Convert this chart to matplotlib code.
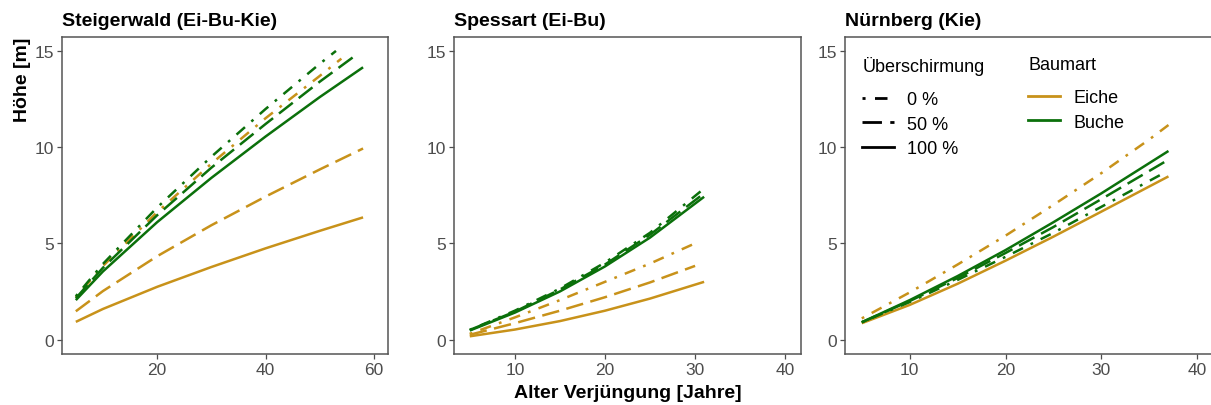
import matplotlib
matplotlib.use("Agg")
import matplotlib.pyplot as plt
from matplotlib.lines import Line2D

# Steigerwald (Ei-Bu-Kie)
stw_ei100_x = [5, 10, 20, 30, 40, 50, 58]
stw_ei100_y = [0.92, 1.59, 2.74, 3.77, 4.74, 5.65, 6.35]
stw_ei50_x = [5, 10, 20, 30, 40, 50, 58]
stw_ei50_y = [1.47, 2.52, 4.33, 5.94, 7.43, 8.84, 9.93]
stw_ei0_x = [5, 10, 20, 30, 40, 50, 54]
stw_ei0_y = [2.2, 3.82, 6.62, 9.14, 11.5, 13.7, 14.6]
stw_bu100_x = [5, 10, 20, 30, 40, 50, 58]
stw_bu100_y = [2.05, 3.54, 6.1, 8.4, 10.55, 12.6, 14.15]
stw_bu50_x = [5, 10, 20, 30, 40, 50, 57]
stw_bu50_y = [2.15, 3.73, 6.46, 8.93, 11.2, 13.4, 14.85]
stw_bu0_x = [5, 10, 20, 30, 40, 50, 53]
stw_bu0_y = [2.25, 3.93, 6.86, 9.5, 11.98, 14.33, 15.0]

# Spessart (Ei-Bu)
spe_ei100_x = [5, 10, 15, 20, 25, 31]
spe_ei100_y = [0.17, 0.52, 0.96, 1.5, 2.13, 3.0]
spe_ei50_x = [5, 10, 15, 20, 25, 30]
spe_ei50_y = [0.25, 0.85, 1.5, 2.2, 2.97, 3.83]
spe_ei0_x = [5, 10, 15, 20, 25, 30]
spe_ei0_y = [0.3, 1.15, 2.05, 3.0, 3.95, 5.0]
spe_bu100_x = [5, 10, 15, 20, 25, 31]
spe_bu100_y = [0.47, 1.4, 2.5, 3.8, 5.3, 7.42]
spe_bu50_x = [5, 10, 15, 20, 25, 31]
spe_bu50_y = [0.5, 1.45, 2.6, 3.9, 5.45, 7.6]
spe_bu0_x = [5, 10, 15, 20, 25, 31]
spe_bu0_y = [0.5, 1.5, 2.65, 4.0, 5.55, 7.85]

# Nürnberg (Kie)
nbg_ei100_x = [5, 10, 15, 20, 25, 30, 37]
nbg_ei100_y = [0.85, 1.8, 2.9, 4.1, 5.35, 6.65, 8.48]
nbg_ei0_x = [5, 10, 15, 20, 25, 30, 35, 37]
nbg_ei0_y = [1.1, 2.45, 3.9, 5.4, 7.0, 8.65, 10.4, 11.15]
nbg_bu100_x = [5, 10, 15, 20, 25, 30, 37]
nbg_bu100_y = [0.9, 2.05, 3.3, 4.65, 6.1, 7.6, 9.8]
nbg_bu50_x = [5, 10, 15, 20, 25, 30, 37]
nbg_bu50_y = [0.9, 2.0, 3.2, 4.5, 5.85, 7.3, 9.35]
nbg_bu0_x = [5, 10, 15, 20, 25, 30, 36.5]
nbg_bu0_y = [0.9, 1.95, 3.1, 4.3, 5.55, 6.9, 8.65]

titles = ["Steigerwald (Ei-Bu-Kie)", "Spessart (Ei-Bu)", "Nürnberg (Kie)"]
shade_labels = ["0 %", "50 %", "100 %"]
species_labels = ["Eiche", "Buche"]

COLORS = {"Eiche": "#C8921A", "Buche": "#0B700B"}
STYLES = {"0 %": (0, (1.1, 3.4, 4.5, 3.4)), "50 %": (0, (7, 3)), "100 %": "solid"}
LW = 1.8
GREY = "#4D4D4D"

plt.rcParams["font.family"] = ["Liberation Sans", "DejaVu Sans"]

fig = plt.figure(figsize=(12.11, 4.06), dpi=100)
W, H = 1211.0, 406.0
top, bottom = 37.5, 355.0
ax1 = fig.add_axes([62 / W, 1 - bottom / H, 326 / W, (bottom - top) / H])
ax2 = fig.add_axes([454 / W, 1 - bottom / H, 347 / W, (bottom - top) / H])
ax3 = fig.add_axes([845 / W, 1 - bottom / H, 369 / W, (bottom - top) / H])
axes = [ax1, ax2, ax3]

lines = [
    (ax1, stw_ei100_x, stw_ei100_y, "Eiche", "100 %"),
    (ax1, stw_ei50_x, stw_ei50_y, "Eiche", "50 %"),
    (ax1, stw_ei0_x, stw_ei0_y, "Eiche", "0 %"),
    (ax1, stw_bu100_x, stw_bu100_y, "Buche", "100 %"),
    (ax1, stw_bu50_x, stw_bu50_y, "Buche", "50 %"),
    (ax1, stw_bu0_x, stw_bu0_y, "Buche", "0 %"),
    (ax2, spe_ei100_x, spe_ei100_y, "Eiche", "100 %"),
    (ax2, spe_ei50_x, spe_ei50_y, "Eiche", "50 %"),
    (ax2, spe_ei0_x, spe_ei0_y, "Eiche", "0 %"),
    (ax2, spe_bu100_x, spe_bu100_y, "Buche", "100 %"),
    (ax2, spe_bu50_x, spe_bu50_y, "Buche", "50 %"),
    (ax2, spe_bu0_x, spe_bu0_y, "Buche", "0 %"),
    (ax3, nbg_ei100_x, nbg_ei100_y, "Eiche", "100 %"),
    (ax3, nbg_ei0_x, nbg_ei0_y, "Eiche", "0 %"),
    (ax3, nbg_bu100_x, nbg_bu100_y, "Buche", "100 %"),
    (ax3, nbg_bu50_x, nbg_bu50_y, "Buche", "50 %"),
    (ax3, nbg_bu0_x, nbg_bu0_y, "Buche", "0 %"),
]
for ax, x, y, sp, sh in lines:
    ax.plot(x, y, color=COLORS[sp], linestyle=STYLES[sh], linewidth=LW,
            dash_capstyle="butt", solid_capstyle="butt")

xlims = [(2.45, 62.6), (3.25, 41.75), (3.25, 41.75)]
xticks = [[20, 40, 60], [10, 20, 30, 40], [10, 20, 30, 40]]
for ax, title, xl, xt in zip(axes, titles, xlims, xticks):
    ax.set_xlim(*xl)
    ax.set_ylim(-0.75, 15.75)
    ax.set_xticks(xt)
    ax.set_yticks([0, 5, 10, 15])
    ax.tick_params(length=3.5, width=0.9, color=GREY, labelcolor=GREY,
                   labelsize=12.5, pad=2)
    for s in ax.spines.values():
        s.set_color("#555555")
        s.set_linewidth(1.1)
    ax.set_title(title, loc="left", fontsize=14, fontweight="bold", pad=8)

ax1.set_ylabel("Höhe [m]", fontsize=14, fontweight="bold", loc="top", labelpad=3)
ax2.set_xlabel("Alter Verjüngung [Jahre]", fontsize=14, fontweight="bold", labelpad=5)

leg_kw = dict(loc="upper left", bbox_transform=fig.transFigure, frameon=False,
              fontsize=13, title_fontsize=13, handlelength=1.77, handletextpad=0.72,
              labelspacing=0.42, borderpad=0.4, borderaxespad=0, alignment="left")
shade_handles = [Line2D([], [], color="black", linewidth=2, linestyle=STYLES[s],
                        dash_capstyle="butt") for s in shade_labels]
leg1 = ax3.legend(shade_handles, shade_labels, title="Überschirmung",
                  bbox_to_anchor=(855 / W, 1 - 50 / H), **leg_kw)
leg1._legend_box.sep = 11.3
ax3.add_artist(leg1)
species_handles = [Line2D([], [], color=COLORS[s], linewidth=2) for s in species_labels]
leg2 = ax3.legend(species_handles, species_labels, title="Baumart",
                  bbox_to_anchor=(1021 / W, 1 - 50 / H), **leg_kw)
leg2._legend_box.sep = 11.3

plt.savefig("out.png", dpi=100)
